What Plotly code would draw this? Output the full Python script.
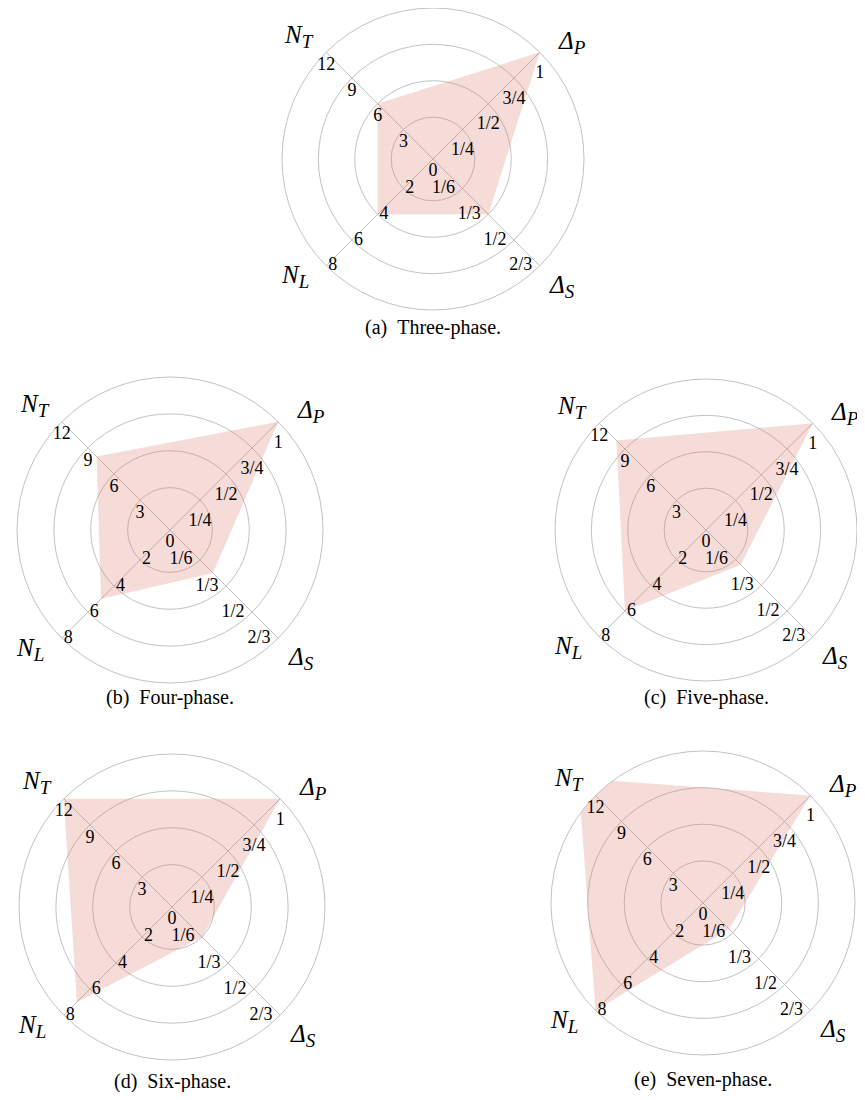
import math
import plotly.graph_objects as go

# one radar per converter topology
phases = ["Three-phase", "Four-phase", "Five-phase", "Six-phase", "Seven-phase"]
letters = ["a", "b", "c", "d", "e"]
delta_p = [1, 1, 1, 1, 1]
n_t = [6, 8, 10, 12, 14]
n_l = [4, 5, 6, 7, 8]
delta_s = [1/3, 1/4, 1/5, 1/6, 1/7]

# the four spokes: ΔP, NT, NL, ΔS
sub = "<sub><span style='font-size:19px'><i>{}</i></span></sub>"
axis_names = ["<i>Δ</i>" + sub.format("P"), "<i>N</i>" + sub.format("T"),
              "<i>N</i>" + sub.format("L"), "<i>Δ</i>" + sub.format("S")]
axis_angles = [45, 135, 225, 315]
axis_max = [1, 12, 8, 2/3]
tick_labels = [
    ["1/4", "1/2", "3/4", "1"],
    ["3", "6", "9", "12"],
    ["2", "4", "6", "8"],
    ["1/6", "1/3", "1/2", "2/3"],
]
levels = [1, 2, 3, 4]
r_min = -0.15

# page body adds an 8px margin, so the figure is laid out 8px up/left
OFF = 8
W, H = 865 - OFF, 1100 - 2 * OFF
# centre x, centre y, radius in window pixels
spots = [(433, 159, 151), (170, 530, 153), (706, 530, 151), (172, 907, 153), (703, 903, 152)]
caption_y = [327, 697, 697, 1081, 1079]

fill = "rgba(219,115,99,0.25)"
grey = "#c2c2c2"
tick_font = dict(family="Liberation Serif", size=18, color="black")

# text placement per spoke
tick_pos = ["bottom center", "bottom center", "middle right", "middle left"]
tick_pad = [18, 5, 1.5, 10.5]
label_angles = [40, 137.5, 220.5, 315.5]
label_dist = 1.2


def clamp(v):
    return min(1.0, max(0.0, v))


fig = go.Figure()
layout = {}

for i in range(5):
    sp = f"polar{2 * i + 1}" if i else "polar"
    tp = f"polar{2 * i + 2}"
    cx, cy, R = spots[i]
    cx, cy = cx - OFF, cy - OFF
    dom = dict(x=[clamp((cx - R) / W), clamp((cx + R) / W)],
               y=[clamp(1 - (cy + R) / H), clamp(1 - (cy - R) / H)])

    vals = [delta_p[i], n_t[i], n_l[i], delta_s[i]]
    k = [v / m * 4 for v, m in zip(vals, axis_max)]

    fig.add_trace(go.Scatterpolar(
        r=k + [k[0]], theta=axis_angles + [axis_angles[0]], subplot=sp,
        mode="lines", fill="toself", fillcolor=fill,
        line=dict(width=0, color="rgba(0,0,0,0)"),
        showlegend=False, hoverinfo="skip"))

    for a in range(4):
        fig.add_trace(go.Scatterpolar(
            r=levels, theta=[axis_angles[a]] * 4, subplot=tp,
            mode="markers+text", text=tick_labels[a], textposition=tick_pos[a],
            marker=dict(size=tick_pad[a], opacity=0), textfont=tick_font,
            cliponaxis=False, showlegend=False, hoverinfo="skip"))

    fig.add_trace(go.Scatterpolar(
        r=[r_min], theta=[0], subplot=tp, mode="markers+text", text=["0"],
        textposition="bottom center", marker=dict(size=4, opacity=0),
        textfont=tick_font, cliponaxis=False, showlegend=False, hoverinfo="skip"))

    layout[sp] = dict(
        domain=dom, bgcolor="rgba(0,0,0,0)",
        radialaxis=dict(range=[r_min, 4], tickvals=[1, 2, 3], showticklabels=False,
                        ticks="", showline=False, gridcolor=grey, gridwidth=1),
        angularaxis=dict(rotation=0, direction="counterclockwise",
                         tickvals=axis_angles, showticklabels=False, ticks="",
                         showgrid=True, gridcolor=grey, gridwidth=1,
                         showline=True, linecolor=grey, linewidth=1),
    )
    layout[tp] = dict(
        domain=dom, bgcolor="rgba(0,0,0,0)",
        radialaxis=dict(range=[r_min, 4], visible=False),
        angularaxis=dict(rotation=0, direction="counterclockwise", visible=False),
    )

    for a in range(4):
        ang = math.radians(label_angles[a])
        fig.add_annotation(
            x=(cx + label_dist * R * math.cos(ang)) / W,
            y=1 - (cy - label_dist * R * math.sin(ang)) / H,
            xref="paper", yref="paper", xanchor="center", yanchor="middle",
            text=axis_names[a], showarrow=False,
            font=dict(family="Liberation Serif", size=25, color="black"))

    fig.add_annotation(
        x=cx / W, y=1 - (caption_y[i] - OFF) / H, xref="paper", yref="paper",
        xanchor="center", yanchor="middle",
        text=f"({letters[i]})\u2002{phases[i]}.", showarrow=False,
        font=dict(family="Liberation Serif", size=20, color="black"))

fig.update_layout(
    width=W, height=H, margin=dict(l=0, r=0, t=0, b=0),
    paper_bgcolor="white", plot_bgcolor="white",
    font=dict(family="Liberation Serif"),
    **layout)

fig.write_html("out.html")
